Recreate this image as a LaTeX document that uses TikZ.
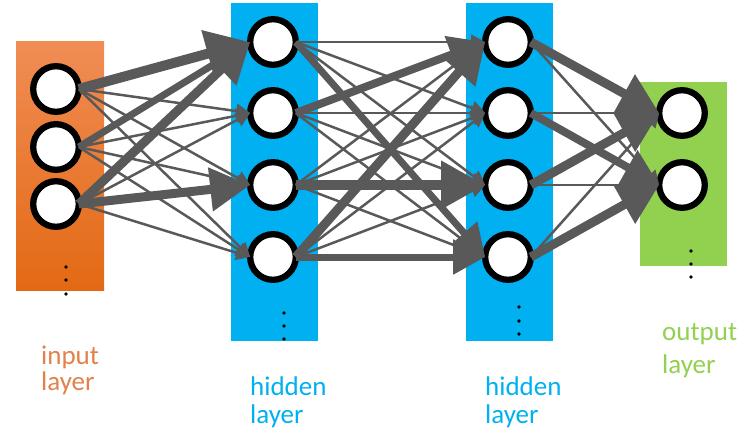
\documentclass[tikz,border=0pt]{standalone}
\usepackage{fontspec}
\setmainfont{Carlito}
\usepackage{tikz}
\usetikzlibrary{arrows.meta}
\definecolor{nettop}{HTML}{F08D55}
\definecolor{netbottom}{HTML}{E36914}
\definecolor{netorange}{HTML}{E2814A}
\definecolor{netblue}{HTML}{00B0F0}
\definecolor{netgreen}{HTML}{92D050}
\definecolor{netgrey}{HTML}{595959}

\begin{document}
\begin{tikzpicture}[x=1pt, y=-1pt,
  layerbox/.style={rectangle, inner sep=0pt, outer sep=0pt, minimum width=87pt},
  neuron/.style={circle, draw=black, line width=6.3pt, fill=white,
    minimum size=45.6pt, inner sep=0pt, outer sep=0pt},
  wire/.style={draw=netgrey, line width=#1,
    -{Triangle[length=4pt 4, width=4pt 4.2]}},
  wire/.default=2.5pt,
  caption/.style={anchor=base west, align=left, inner sep=0pt,
    font=\fontsize{27}{28}\selectfont}]
  \useasboundingbox (0,0) rectangle (755,432);

  % layer backgrounds
  \node[layerbox, top color=nettop, bottom color=netbottom,
    minimum width=88pt, minimum height=249pt] (inbox) at (60,165.5) {};
  \node[layerbox, fill=netblue, minimum height=338pt] (hidbox) at (274.5,172) {};
  \node[layerbox, fill=netblue, minimum height=338pt] (hidboxb) at (509.5,172) {};
  \node[layerbox, fill=netgreen, minimum height=184pt] (outbox) at (683.5,174) {};

  % neurons
  \node[neuron] (i1) at (56,89) {};
  \node[neuron] (i2) at (56,147) {};
  \node[neuron] (i3) at (56,204) {};
  \node[neuron] (h1) at (273,42) {};
  \node[neuron] (h2) at (273,113) {};
  \node[neuron] (h3) at (273,185) {};
  \node[neuron] (h4) at (273,257) {};
  \node[neuron] (g1) at (508,42) {};
  \node[neuron] (g2) at (508,113) {};
  \node[neuron] (g3) at (508,185) {};
  \node[neuron] (g4) at (508,257) {};
  \node[neuron] (o1) at (682,113) {};
  \node[neuron] (o2) at (682,185) {};

  % more units below
  \foreach \y in {267,280,294} \fill (66,\y) circle (1.8);
  \foreach \y in {313,326,339} \fill (284,\y) circle (1.8);
  \foreach \y in {307,321,334} \fill (519,\y) circle (1.8);
  \foreach \y in {251,264,277} \fill (691,\y) circle (1.8);

  % weak connections
  \draw[wire] (i1.east) -- (h2.west);
  \draw[wire] (i1.east) -- (h3.west);
  \draw[wire] (i1.east) -- (h4.west);
  \draw[wire] (i2.east) -- (h2.west);
  \draw[wire] (i2.east) -- (h3.west);
  \draw[wire] (i2.east) -- (h4.west);
  \draw[wire] (i3.east) -- (h2.west);
  \draw[wire] (i3.east) -- (h4.west);

  \draw[wire] (h1.east) -- (g1.west);
  \draw[wire] (h1.east) -- (g2.west);
  \draw[wire] (h1.east) -- (g3.west);
  \draw[wire] (h2.east) -- (g2.west);
  \draw[wire] (h2.east) -- (g3.west);
  \draw[wire] (h2.east) -- (g4.west);
  \draw[wire] (h3.east) -- (g1.west);
  \draw[wire] (h3.east) -- (g2.west);
  \draw[wire] (h3.east) -- (g4.west);
  \draw[wire] (h4.east) -- (g2.west);
  \draw[wire] (h4.east) -- (g3.west);

  \draw[wire] (g1.east) -- (o2.west);
  \draw[wire] (g2.east) -- (o1.west);
  \draw[wire] (g3.east) -- (o2.west);
  \draw[wire] (g4.east) -- (o1.west);

  % strong connections
  \draw[wire=10pt] (i1.east) -- (h1.west);
  \draw[wire=7pt] (i2.east) -- (h1.west);
  \draw[wire=9pt] (i3.east) -- (h1.west);
  \draw[wire=9pt] (i3.east) -- (h3.west);

  \draw[wire=7pt] (h1.east) -- (g4.west);
  \draw[wire=8pt] (h2.east) -- (g1.west);
  \draw[wire=10pt] (h3.east) -- (g3.west);
  \draw[wire=9pt] (h4.east) -- (g1.west);
  \draw[wire=7pt] (h4.east) -- (g4.west);

  \draw[wire=9pt] (g1.east) -- (o1.west);
  \draw[wire=8pt] (g2.east) -- (o2.west);
  \draw[wire=9pt] (g3.east) -- (o1.west);
  \draw[wire=9pt] (g4.east) -- (o2.west);

  % captions (anchored on the last line)
  \node[caption, text=netorange] (incap) at (41,390) {input\\[-2pt]layer};
  \node[caption, text=netblue] (hidcap) at (250,423) {hidden\\layer};
  \node[caption, text=netblue] (hidcapb) at (485,423) {hidden\\layer};
  \node[caption, text=netgreen] (outcap) at (662,373) {output\\[5pt]layer};
\end{tikzpicture}
\end{document}
